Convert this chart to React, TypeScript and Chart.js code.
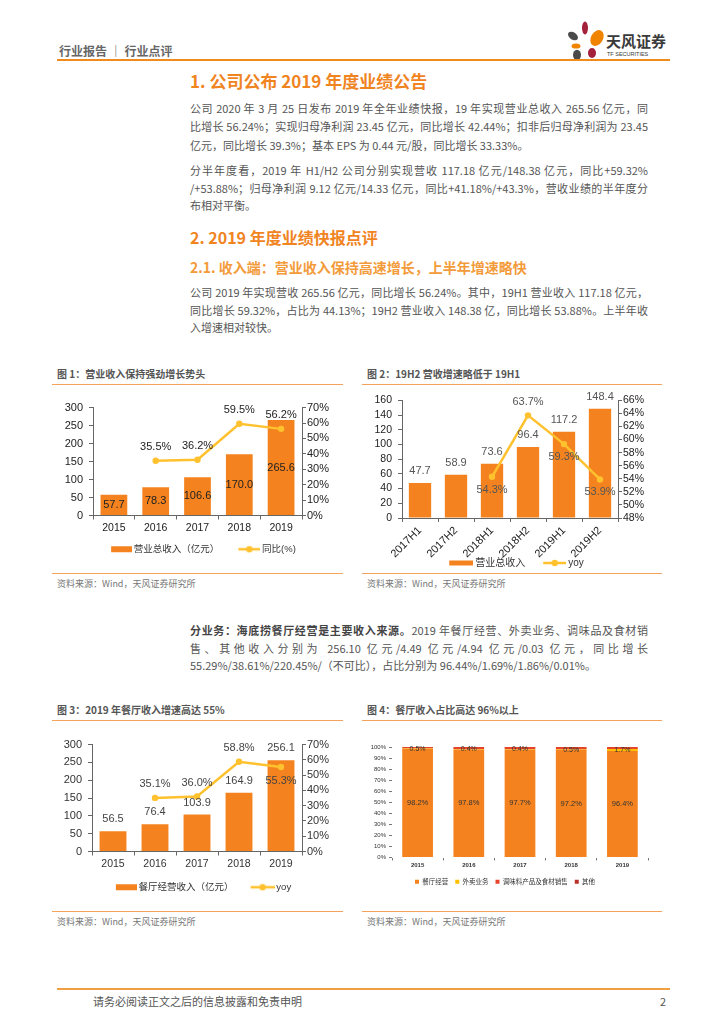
import React, { useEffect, useRef } from 'react';
import { Chart, registerables } from 'chart.js';

Chart.register(...registerables);

// ---------------- data ----------------
const years = ['2015', '2016', '2017', '2018', '2019'];
const totalRevenue = [57.7, 78.3, 106.6, 170.0, 265.6];
const totalRevenueYoy: (number | null)[] = [null, 35.5, 36.2, 59.5, 56.2];

const halfYears = ['2017H1', '2017H2', '2018H1', '2018H2', '2019H1', '2019H2'];
const halfRevenue = [47.7, 58.9, 73.6, 96.4, 117.2, 148.4];
const halfYoy: (number | null)[] = [null, null, 54.3, 63.7, 59.3, 53.9];

const restaurantRevenue = [56.5, 76.4, 103.9, 164.9, 256.1];
const restaurantYoy: (number | null)[] = [null, 35.1, 36.0, 58.8, 55.3];

const shareRestaurant = [98.2, 97.8, 97.7, 97.2, 96.4];
const shareDelivery = [0.5, 0.4, 0.4, 0.5, 1.7];
const shareCondiment = [1.3, 1.8, 1.9, 2.3, 1.9];
const shareOther = [0, 0, 0, 0, 0.01];

const chart1Ticks = { leftMax: 300, leftStep: 50, rightMin: 0, rightMax: 70, rightStep: 10 };
const chart2Ticks = { leftMax: 160, leftStep: 20, rightMin: 48, rightMax: 66, rightStep: 2 };
const chart3Ticks = { leftMax: 300, leftStep: 50, rightMin: 0, rightMax: 70, rightStep: 10 };

// ---------------- styles ----------------
const ORANGE = '#F4831F';
const GOLD = '#FFC12E';
const AXIS = '#666666';
const HEAD = '#F0841F';
const PAGE_FONT = "'Noto Sans CJK SC', 'Noto Sans', sans-serif";
const CHART_FONT = "'Liberation Sans', 'Noto Sans CJK SC', sans-serif";

const valueLabelPlugin = {
  id: 'valueLabels',
  afterDatasetsDraw(chart: any) {
    const ctx = chart.ctx;
    chart.data.datasets.forEach((ds: any, i: number) => {
      const cfg = ds.valueLabels;
      if (!cfg) return;
      const meta = chart.getDatasetMeta(i);
      meta.data.forEach((el: any, j: number) => {
        const v = ds.data[j];
        if (v === null || v === undefined) return;
        const pos = Array.isArray(cfg.pos) ? cfg.pos[j] : cfg.pos;
        let y: number;
        if (pos === 'center') y = (el.y + el.base) / 2;
        else if (pos === 'below') y = el.y + cfg.offset;
        else y = el.y - cfg.offset;
        ctx.save();
        ctx.font = `${cfg.bold ? 'bold ' : ''}${cfg.size}px ${CHART_FONT}`;
        ctx.fillStyle = cfg.color;
        ctx.textAlign = 'center';
        ctx.textBaseline = 'middle';
        ctx.fillText(cfg.fmt(v), el.x, y);
        ctx.restore();
      });
    });
  },
};

function makeIcon(w: number, h: number, kind: 'rect' | 'line', cw: number, color: string, rh = 6) {
  const c = document.createElement('canvas');
  c.width = w;
  c.height = h;
  const g = c.getContext('2d')!;
  const x0 = w - cw;
  if (kind === 'rect') {
    g.fillStyle = color;
    g.fillRect(x0, (h - rh) / 2, cw, rh);
  } else {
    g.strokeStyle = color;
    g.lineWidth = 2.5;
    g.beginPath();
    g.moveTo(x0, h / 2);
    g.lineTo(w, h / 2);
    g.stroke();
    g.fillStyle = color;
    g.beginPath();
    g.arc(x0 + cw / 2, h / 2, 3.2, 0, Math.PI * 2);
    g.fill();
  }
  return c;
}

type ComboSpec = {
  labels: string[];
  bars: number[];
  line: (number | null)[];
  barName: string;
  lineName: string;
  ticks: { leftMax: number; leftStep: number; rightMin: number; rightMax: number; rightStep: number };
  leftW: number;
  rightW: number;
  padTop: number;
  xH: number;
  legendPad: number;
  legendSize: number;
  barPct: number;
  rotate: number;
  tickSize: number;
  xTickSize: number;
  tickColor: string;
  barIconW: number;
  barIconH: number;
  lineIconW: number;
  barLabel: any;
  lineLabel: any;
};

function buildCombo(s: ComboSpec) {
  const icons = [
    makeIcon(36, 10, 'rect', s.barIconW, ORANGE, s.barIconH),
    makeIcon(36, 10, 'line', s.lineIconW, GOLD),
  ];
  const tickFont = { family: CHART_FONT, size: s.tickSize };
  return {
    type: 'bar',
    data: {
      labels: s.labels,
      datasets: [
        {
          type: 'bar',
          label: s.barName,
          data: s.bars,
          backgroundColor: ORANGE,
          yAxisID: 'y',
          order: 1,
          barPercentage: s.barPct,
          categoryPercentage: 1,
          valueLabels: s.barLabel,
        },
        {
          type: 'line',
          label: s.lineName,
          data: s.line,
          borderColor: GOLD,
          backgroundColor: GOLD,
          borderWidth: 2.5,
          pointRadius: 3.2,
          pointBorderWidth: 0,
          pointHoverRadius: 3.2,
          yAxisID: 'y1',
          order: 0,
          valueLabels: s.lineLabel,
        },
      ],
    },
    options: {
      animation: false,
      responsive: false,
      maintainAspectRatio: false,
      events: [],
      layout: { padding: { top: s.padTop, left: 0, right: 0, bottom: 0 } },
      plugins: {
        tooltip: { enabled: false },
        legend: {
          position: 'bottom',
          labels: {
            usePointStyle: true,
            pointStyleWidth: 30,
            boxHeight: 8,
            padding: s.legendPad,
            color: '#333',
            font: { family: CHART_FONT, size: s.legendSize },
            generateLabels: (chart: any) => {
              const items = (Chart.defaults as any).plugins.legend.labels.generateLabels(chart);
              items.forEach((it: any) => {
                it.pointStyle = icons[it.datasetIndex];
              });
              return items;
            },
            sort: (a: any, b: any) => a.datasetIndex - b.datasetIndex,
          },
        },
      },
      scales: {
        x: {
          grid: { drawOnChartArea: false, offset: true, tickLength: 4, color: AXIS },
          border: { color: AXIS },
          ticks: {
            font: { family: CHART_FONT, size: s.xTickSize },
            color: s.tickColor,
            padding: 2,
            maxRotation: s.rotate,
            minRotation: s.rotate,
            autoSkip: false,
          },
          afterFit: (sc: any) => {
            sc.height = s.xH;
            // let rotated labels run past the fixed axis height
            sc._computeLabelArea = () => undefined;
          },
        },
        y: {
          position: 'left',
          min: 0,
          max: s.ticks.leftMax,
          ticks: { stepSize: s.ticks.leftStep, font: tickFont, color: s.tickColor, padding: 6, autoSkip: false },
          grid: { drawOnChartArea: false, tickLength: 4, color: AXIS },
          border: { color: AXIS },
          afterFit: (sc: any) => {
            sc.width = s.leftW;
          },
        },
        y1: {
          position: 'right',
          min: s.ticks.rightMin,
          max: s.ticks.rightMax,
          ticks: {
            stepSize: s.ticks.rightStep,
            font: tickFont,
            color: s.tickColor,
            padding: 1,
            autoSkip: false,
            callback: (v: any) => v + '%',
          },
          grid: { drawOnChartArea: false, tickLength: 4, color: AXIS },
          border: { color: AXIS },
          afterFit: (sc: any) => {
            sc.width = s.rightW;
          },
        },
      },
    },
    plugins: [valueLabelPlugin],
  };
}

const fmt1 = (v: number) => v.toFixed(1);
const fmtPct = (v: number) => v.toFixed(1) + '%';

function buildChart1() {
  return buildCombo({
    labels: years,
    bars: totalRevenue,
    line: totalRevenueYoy,
    barName: '营业总收入（亿元）',
    lineName: '同比(%)',
    ticks: chart1Ticks,
    leftW: 41,
    rightW: 41,
    padTop: 9,
    xH: 21,
    legendPad: 8,
    legendSize: 9.5,
    barPct: 0.64,
    rotate: 0,
    tickSize: 11,
    xTickSize: 10.5,
    tickColor: '#222',
    barIconW: 21,
    barIconH: 6,
    lineIconW: 22,
    barLabel: { pos: 'center', offset: 0, color: '#222', size: 11, fmt: fmt1 },
    lineLabel: { pos: 'above', offset: 14, color: '#222', size: 11, fmt: fmtPct },
  });
}

function buildChart2() {
  return buildCombo({
    labels: halfYears,
    bars: halfRevenue,
    line: halfYoy,
    barName: '营业总收入',
    lineName: 'yoy',
    ticks: chart2Ticks,
    leftW: 40,
    rightW: 44,
    padTop: 10,
    xH: 32,
    legendPad: 8,
    legendSize: 10,
    barPct: 0.62,
    rotate: 45,
    tickSize: 10.5,
    xTickSize: 11,
    tickColor: '#222',
    barIconW: 24,
    barIconH: 5,
    lineIconW: 23,
    barLabel: { pos: 'top', offset: 12, color: '#555', size: 11, fmt: fmt1 },
    lineLabel: {
      pos: ['below', 'below', 'below', 'above', 'below', 'below'],
      offset: 13,
      color: '#555',
      size: 11,
      fmt: fmtPct,
    },
  });
}

function buildChart3() {
  return buildCombo({
    labels: years,
    bars: restaurantRevenue,
    line: restaurantYoy,
    barName: '餐厅经营收入（亿元）',
    lineName: 'yoy',
    ticks: chart3Ticks,
    leftW: 40,
    rightW: 41,
    padTop: 10,
    xH: 23,
    legendPad: 8,
    legendSize: 9.5,
    barPct: 0.64,
    rotate: 0,
    tickSize: 11,
    xTickSize: 10.5,
    tickColor: '#333',
    barIconW: 21,
    barIconH: 6,
    lineIconW: 24,
    barLabel: { pos: 'top', offset: 12, color: '#444', size: 11, fmt: fmt1 },
    lineLabel: { pos: ['above', 'above', 'above', 'above', 'below'], offset: 14, color: '#444', size: 11, fmt: fmtPct },
  });
}

function buildChart4() {
  const small = { family: CHART_FONT, size: 6 };
  return {
    type: 'bar',
    data: {
      labels: years,
      datasets: [
        {
          label: '餐厅经营',
          data: shareRestaurant,
          backgroundColor: ORANGE,
          valueLabels: { pos: 'center', offset: 0, color: '#333', size: 7.5, fmt: fmtPct },
        },
        {
          label: '外卖业务',
          data: shareDelivery,
          backgroundColor: '#FFC000',
          valueLabels: { pos: 'center', offset: 0, color: '#333', size: 7, fmt: fmtPct },
        },
        { label: '调味料产品及食材销售', data: shareCondiment, backgroundColor: '#E5432A' },
        { label: '其他', data: shareOther, backgroundColor: '#B8322A' },
      ],
    },
    options: {
      animation: false,
      responsive: false,
      maintainAspectRatio: false,
      events: [],
      layout: { padding: { top: 10, left: 0, right: 14, bottom: 0 } },
      datasets: { bar: { barPercentage: 0.6, categoryPercentage: 1 } },
      plugins: {
        tooltip: { enabled: false },
        legend: {
          position: 'bottom',
          labels: { boxWidth: 4, boxHeight: 4, padding: 7, color: '#333', font: { family: CHART_FONT, size: 6.5 } },
        },
      },
      scales: {
        x: {
          stacked: true,
          grid: { drawOnChartArea: false, offset: true, tickLength: 3, color: '#777' },
          border: { display: false },
          ticks: { font: { family: CHART_FONT, size: 6, weight: 'bold' }, color: '#333', padding: 1 },
          afterFit: (sc: any) => {
            sc.height = 14;
          },
        },
        y: {
          stacked: true,
          min: 0,
          max: 100,
          ticks: { stepSize: 10, font: small, color: '#333', padding: 3, autoSkip: false, callback: (v: any) => v + '%' },
          grid: { drawOnChartArea: false, tickLength: 3, color: '#777' },
          border: { display: false },
          afterFit: (sc: any) => {
            sc.width = 30;
          },
        },
      },
    },
    plugins: [valueLabelPlugin],
  };
}

function ChartBox(props: { left: number; top: number; width: number; height: number; build: () => any }) {
  const ref = useRef<HTMLCanvasElement>(null);
  useEffect(() => {
    if (!ref.current) return;
    const chart = new Chart(ref.current, props.build());
    return () => chart.destroy();
  }, []);
  return (
    <canvas
      ref={ref}
      width={props.width}
      height={props.height}
      style={{ position: 'absolute', left: props.left, top: props.top, width: props.width, height: props.height }}
    />
  );
}

function Lines(props: { x: number; top: number; width: number; lh: number; lines: React.ReactNode[] }) {
  const n = props.lines.length;
  return (
    <>
      {props.lines.map((ln, i) => (
        <div
          key={i}
          lang="zh-CN"
          style={{
            position: 'absolute',
            left: props.x,
            top: props.top + i * props.lh,
            width: props.width,
            height: props.lh,
            lineHeight: props.lh + 'px',
            fontSize: 11,
            color: '#555',
            textAlign: 'justify',
            textAlignLast: i < n - 1 ? 'justify' : 'left',
          } as any}
        >
          {ln}
        </div>
      ))}
    </>
  );
}

function Txt(props: { x: number; y: number; size: number; color: string; bold?: boolean; children: React.ReactNode }) {
  const lh = Math.round(props.size * 1.4);
  return (
    <div
      style={{
        position: 'absolute',
        left: props.x,
        top: props.y - lh / 2,
        height: lh,
        lineHeight: lh + 'px',
        fontSize: props.size,
        color: props.color,
        fontWeight: props.bold ? 700 : 400,
        whiteSpace: 'pre',
      }}
    >
      {props.children}
    </div>
  );
}

function HLine(props: { x: number; y: number; w: number; h?: number; color?: string }) {
  return (
    <div
      style={{
        position: 'absolute',
        left: props.x,
        top: props.y,
        width: props.w,
        height: props.h || 1,
        background: props.color || '#F5A35C',
      }}
    />
  );
}

function Figure(props: { x: number; w: number; top: number; bottom: number; caption: string }) {
  return (
    <>
      <Txt x={props.x + 5} y={props.top - 10} size={10} color="#555" bold>
        {props.caption}
      </Txt>
      <HLine x={props.x} y={props.top} w={props.w} />
      <HLine x={props.x} y={props.bottom} w={props.w} />
      <Txt x={props.x + 5} y={props.bottom + 10} size={9} color="#777">
        资料来源：Wind，天风证券研究所
      </Txt>
    </>
  );
}

function Logo() {
  return (
    <svg style={{ position: 'absolute', left: 560, top: 16, width: 140, height: 48 }} width={140} height={48}>
      <ellipse cx={13} cy={20} rx={5.5} ry={3.6} fill="#4a4a4a" transform="rotate(35 13 20)" />
      <ellipse cx={25} cy={12} rx={3} ry={6.5} fill="#A3213A" />
      <ellipse cx={37} cy={22} rx={6} ry={8.5} fill="#F08300" transform="rotate(30 37 22)" />
      <ellipse cx={16} cy={30} rx={4.5} ry={2.6} fill="#F08300" />
      <ellipse cx={32} cy={37} rx={4} ry={5} fill="#A3213A" />
      <ellipse cx={17} cy={39} rx={4} ry={5.2} fill="#4a4a4a" />
      <text x={46} y={31} fontSize={15} fontWeight={700} fill="#3a3a3a" fontFamily={PAGE_FONT}>
        天风证券
      </text>
      <text x={47} y={40} fontSize={5.5} fill="#3a3a3a" fontFamily={CHART_FONT}>
        TF SECURITIES
      </text>
    </svg>
  );
}

export default function App() {
  return (
    <div
      style={{
        position: 'absolute',
        left: 0,
        top: 0,
        width: 724,
        height: 1024,
        background: '#fff',
        fontFamily: PAGE_FONT,
        overflow: 'hidden',
      }}
    >
      {/* header */}
      <Txt x={59} y={50} size={12} color="#666" bold>
        {'行业报告 ｜ 行业点评'}
      </Txt>
      <Logo />
      <HLine x={57} y={59} w={613} h={2} color="#F08B1D" />

      <Txt x={190} y={81} size={17} color={HEAD} bold>
        1. 公司公布 2019 年度业绩公告
      </Txt>
      <Lines
        x={190}
        top={99}
        width={458}
        lh={18.3}
        lines={[
          '公司 2020 年 3 月 25 日发布 2019 年全年业绩快报，19 年实现营业总收入 265.56 亿元，同',
          '比增长 56.24%；实现归母净利润 23.45 亿元，同比增长 42.44%；扣非后归母净利润为 23.45',
          '亿元，同比增长 39.3%；基本 EPS 为 0.44 元/股，同比增长 33.33%。',
        ]}
      />
      <Lines
        x={190}
        top={162}
        width={458}
        lh={17.5}
        lines={[
          '分半年度看，2019 年 H1/H2 公司分别实现营收 117.18 亿元/148.38 亿元，同比+59.32%',
          '/+53.88%；归母净利润 9.12 亿元/14.33 亿元，同比+41.18%/+43.3%，营收业绩的半年度分',
          '布相对平衡。',
        ]}
      />
      <Txt x={190} y={237} size={16} color={HEAD} bold>
        2. 2019 年度业绩快报点评
      </Txt>
      <Txt x={190} y={267} size={14} color="#F39B3A" bold>
        2.1. 收入端：营业收入保持高速增长，上半年增速略快
      </Txt>
      <Lines
        x={190}
        top={284}
        width={458}
        lh={17.5}
        lines={[
          '公司 2019 年实现营收 265.56 亿元，同比增长 56.24%。其中，19H1 营业收入 117.18 亿元，',
          '同比增长 59.32%，占比为 44.13%；19H2 营业收入 148.38 亿，同比增长 53.88%。上半年收',
          '入增速相对较快。',
        ]}
      />

      {/* figures 1 & 2 */}
      <Figure x={52} w={291} top={384} bottom={573} caption="图 1：营业收入保持强劲增长势头" />
      <Figure x={362} w={300} top={384} bottom={573} caption="图 2：19H2 营收增速略低于 19H1" />
      <ChartBox left={52} top={395} width={291} height={169} build={buildChart1} />
      <ChartBox left={362} top={388} width={300} height={190} build={buildChart2} />

      <Lines
        x={190}
        top={622}
        width={458}
        lh={17.5}
        lines={[
          <>
            <span style={{ fontWeight: 700, color: '#444' }}>分业务：海底捞餐厅经营是主要收入来源。</span>
            2019 年餐厅经营、外卖业务、调味品及食材销
          </>,
          '售、其他收入分别为 256.10 亿元/4.49 亿元/4.94 亿元/0.03 亿元，同比增长',
          '55.29%/38.61%/220.45%/（不可比），占比分别为 96.44%/1.69%/1.86%/0.01%。',
        ]}
      />

      {/* figures 3 & 4 */}
      <Figure x={52} w={291} top={720} bottom={911} caption="图 3：2019 年餐厅收入增速高达 55%" />
      <Figure x={362} w={300} top={720} bottom={911} caption="图 4：餐厅收入占比高达 96%以上" />
      <ChartBox left={52} top={732} width={291} height={170} build={buildChart3} />
      <ChartBox left={362} top={737} width={300} height={158} build={buildChart4} />

      {/* footer */}
      <HLine x={57} y={988} w={613} h={2} color="#F0A040" />
      <Txt x={93} y={1001} size={11} color="#555">
        请务必阅读正文之后的信息披露和免责申明
      </Txt>
      <Txt x={660} y={1001} size={11} color="#555">
        2
      </Txt>
    </div>
  );
}
